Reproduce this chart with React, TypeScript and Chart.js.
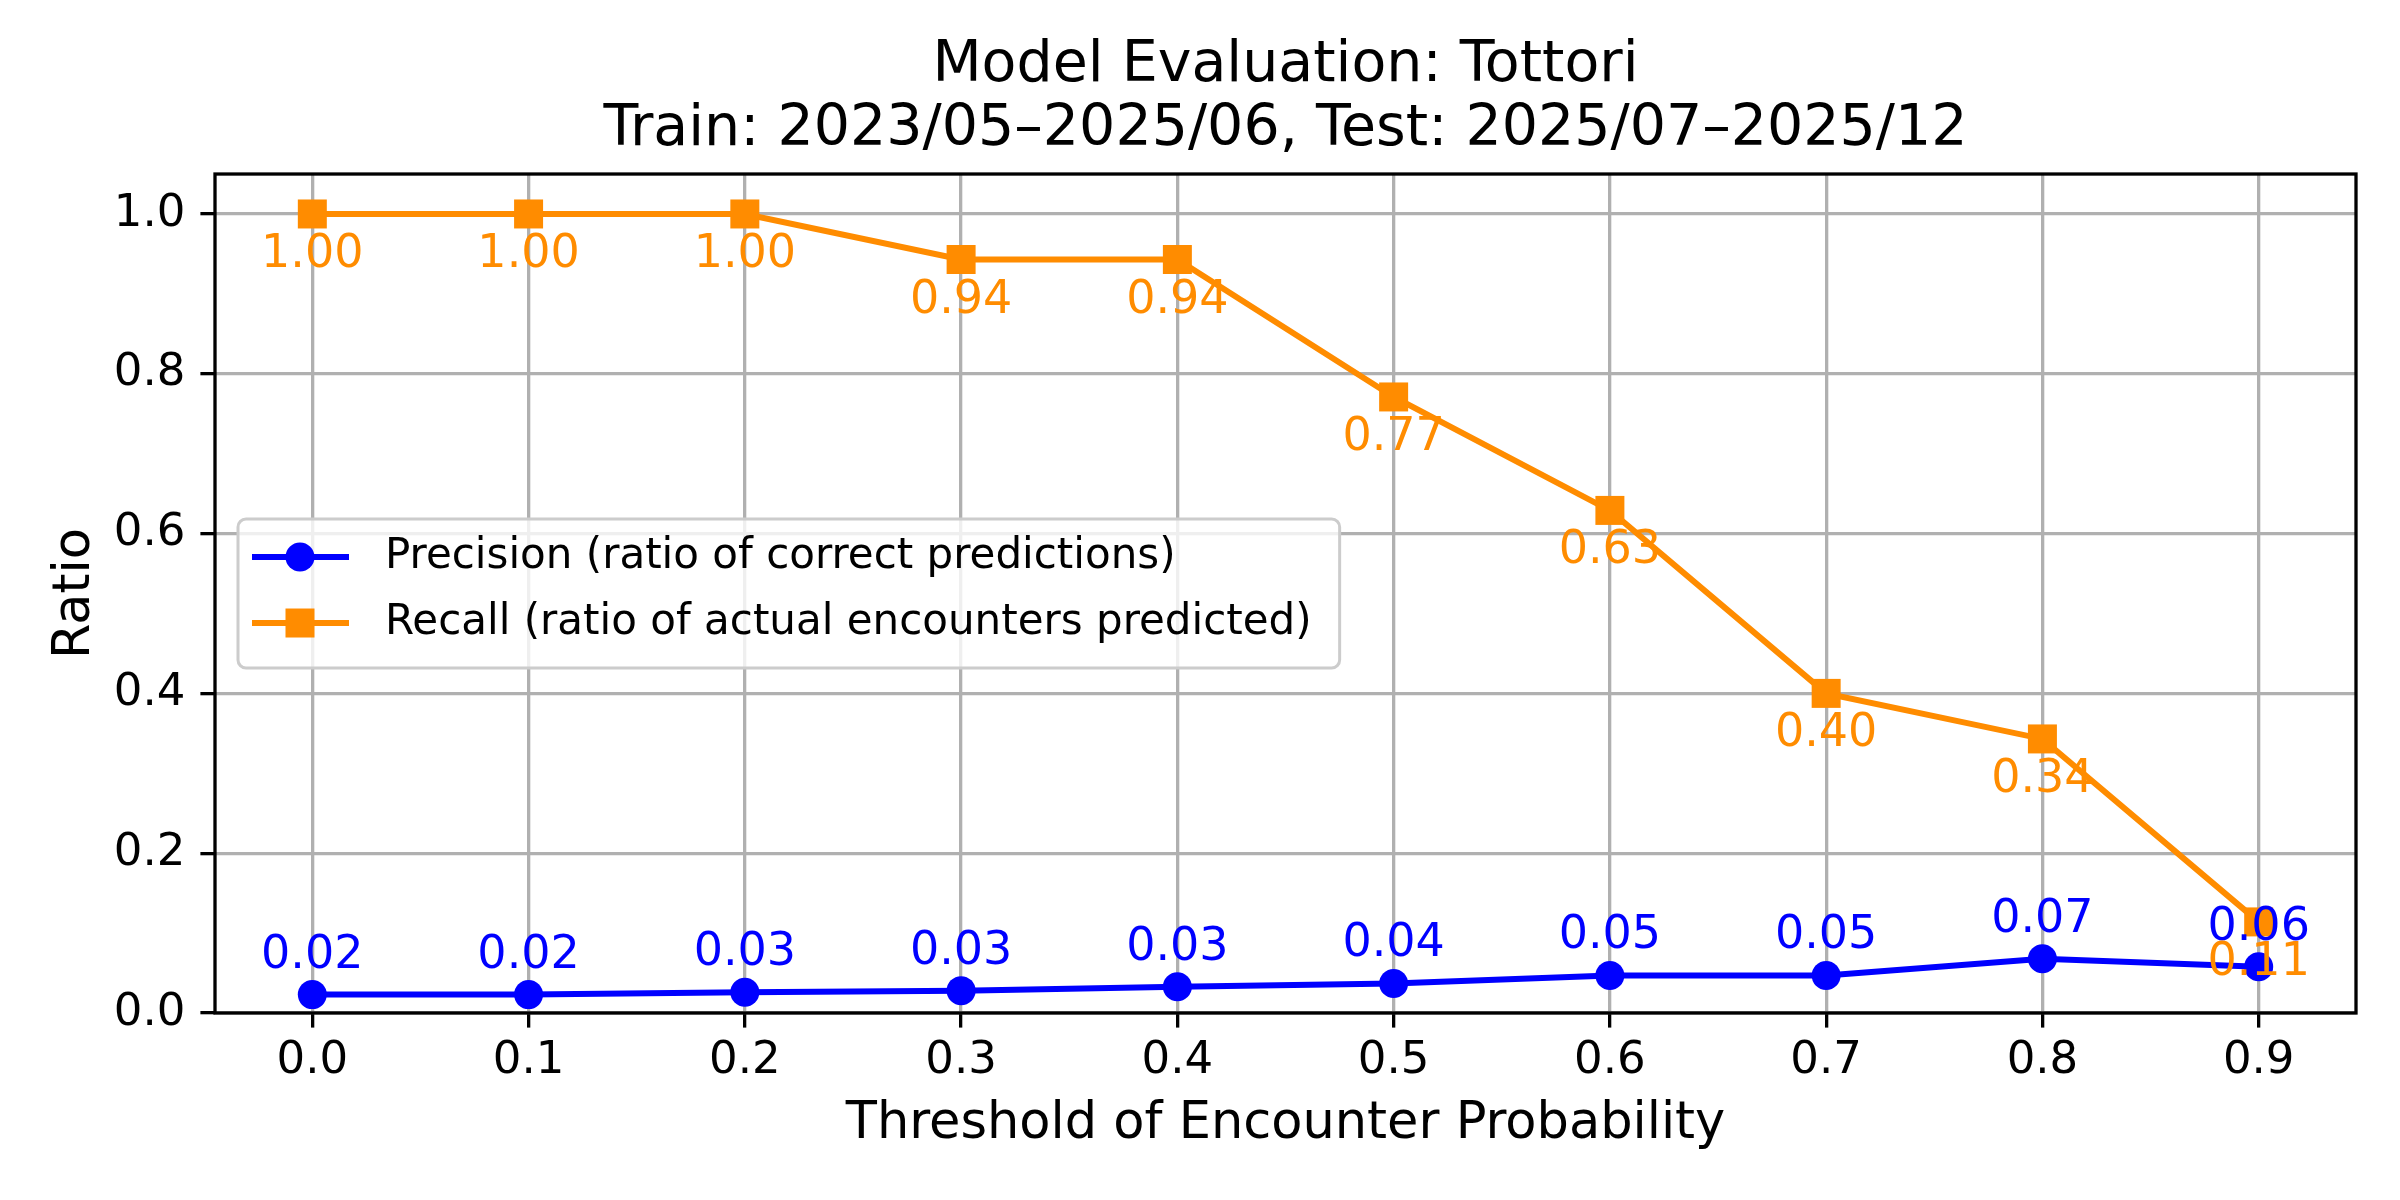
import React, { useEffect, useRef } from "react";
import { Chart, registerables } from "chart.js";

Chart.register(...registerables);

// data
const thresholds = [0.0, 0.1, 0.2, 0.3, 0.4, 0.5, 0.6, 0.7, 0.8, 0.9];
const precision = [0.023, 0.023, 0.026, 0.028, 0.033, 0.037, 0.047, 0.047, 0.068, 0.058];
const recall = [1.0, 1.0, 1.0, 0.943, 0.943, 0.771, 0.629, 0.4, 0.343, 0.114];
const xTicks = [0.0, 0.1, 0.2, 0.3, 0.4, 0.5, 0.6, 0.7, 0.8, 0.9];
const yTicks = [0.0, 0.2, 0.4, 0.6, 0.8, 1.0];
const seriesLabels = [
    "Precision (ratio of correct predictions)",
    "Recall (ratio of actual encounters predicted)",
];
const titleLines = ["Model Evaluation: Tottori", "Train: 2023/05–2025/06, Test: 2025/07–2025/12"];
const xTitle = "Threshold of Encounter Probability";
const yTitle = "Ratio";

const FONT = '"DejaVu Sans", sans-serif';
const BLUE = "#0000ff";
const ORANGE = "#ff8c00";

// spines, value labels and the in-axes legend
const overlayPlugin = {
    id: "overlay",
    afterDatasetsDraw(chart: any) {
        const {ctx, chartArea: a} = chart;
        ctx.save();
        ctx.strokeStyle = "#000";
        ctx.lineWidth = 3.3;
        ctx.strokeRect(a.left, a.top, a.right - a.left, a.bottom - a.top);

        ctx.font = `46px ${FONT}`;
        ctx.textAlign = "center";
        ctx.textBaseline = "alphabetic";
        chart.data.datasets.forEach((ds: any, i: number) => {
            const meta = chart.getDatasetMeta(i);
            ctx.fillStyle = ds.borderColor;
            meta.data.forEach((pt: any, j: number) => {
                const v = ds.data[j].y;
                const dy = i === 0 ? -27 : 53; // precision above, recall below
                ctx.fillText(v.toFixed(2), pt.x, pt.y + dy);
            });
        });
        ctx.restore();
    },
    afterDraw(chart: any) {
        const {ctx, chartArea: a} = chart;
        ctx.save();
        ctx.font = `42px ${FONT}`;
        const maxW = Math.max(...seriesLabels.map(t => ctx.measureText(t).width));
        const boxLeft = a.left + 23;
        const boxW = 149 + maxW + 26;
        const boxH = 149;
        const boxTop = (a.top + a.bottom) / 2 - boxH / 2;

        ctx.beginPath();
        ctx.roundRect(boxLeft, boxTop, boxW, boxH, 8);
        ctx.fillStyle = "rgba(255,255,255,0.8)";
        ctx.fill();
        ctx.strokeStyle = "#cccccc";
        ctx.lineWidth = 3;
        ctx.stroke();

        const colors = [BLUE, ORANGE];
        seriesLabels.forEach((label, i) => {
            const y = boxTop + 38 + i * 66;
            ctx.strokeStyle = colors[i];
            ctx.fillStyle = colors[i];
            ctx.lineWidth = 6;
            ctx.beginPath();
            ctx.moveTo(boxLeft + 14, y);
            ctx.lineTo(boxLeft + 111, y);
            ctx.stroke();
            const mx = boxLeft + 62;
            if (i === 0) {
                ctx.beginPath();
                ctx.arc(mx, y, 14.5, 0, Math.PI * 2);
                ctx.fill();
            } else {
                ctx.fillRect(mx - 14.5, y - 14.5, 29, 29);
            }
            ctx.fillStyle = "#000";
            ctx.textAlign = "left";
            ctx.textBaseline = "middle";
            ctx.fillText(label, boxLeft + 147, y);
        });
        ctx.restore();
    },
};

export default function App() {
    const chartRef = useRef<HTMLCanvasElement>(null);

    useEffect(() => {
        if (!chartRef.current) return;
        const tickFont = {family: FONT, size: 45};
        const gridOpts = {
            color: "#b0b0b0",
            lineWidth: 3.3,
            tickColor: "#000",
            tickWidth: 3.3,
            tickLength: 14.6,
        };

        const chart = new Chart(chartRef.current, {
            type: "line",
            data: {
                datasets: [
                    {
                        label: seriesLabels[0],
                        data: thresholds.map((x, i) => ({x, y: precision[i]})),
                        borderColor: BLUE,
                        backgroundColor: BLUE,
                        borderWidth: 6,
                        pointStyle: "circle",
                        pointRadius: 14.5,
                        pointHoverRadius: 14.5,
                        pointBorderWidth: 0,
                        order: 1,
                    },
                    {
                        label: seriesLabels[1],
                        data: thresholds.map((x, i) => ({x, y: recall[i]})),
                        borderColor: ORANGE,
                        backgroundColor: ORANGE,
                        borderWidth: 6,
                        pointStyle: "rect",
                        pointRadius: 20.5,
                        pointHoverRadius: 20.5,
                        pointBorderWidth: 0,
                        order: 0,
                    },
                ],
            },
            options: {
                animation: false,
                responsive: false,
                events: [],
                layout: {padding: {top: 34, right: 44, bottom: 0, left: 0}},
                plugins: {
                    legend: {display: false},
                    tooltip: {enabled: false},
                    title: {
                        display: true,
                        text: titleLines,
                        fullSize: false,
                        color: "#000",
                        font: {family: FONT, size: 57, weight: "normal", lineHeight: 1.123},
                        padding: {top: 0, bottom: 12},
                    },
                },
                scales: {
                    x: {
                        type: "linear",
                        min: -0.045,
                        max: 0.945,
                        afterBuildTicks: (s: any) => {
                            s.ticks = xTicks.map(v => ({value: v}));
                        },
                        afterFit: (s: any) => {
                            s.height = 187;
                        },
                        ticks: {
                            font: tickFont,
                            color: "#000",
                            padding: 7,
                            autoSkip: false,
                            maxRotation: 0,
                            callback: (v: any) => Number(v).toFixed(1),
                        },
                        grid: gridOpts,
                        border: {display: false},
                        title: {
                            display: true,
                            text: xTitle,
                            color: "#000",
                            font: {family: FONT, size: 51},
                            padding: {top: 0, bottom: 45},
                        },
                    },
                    y: {
                        type: "linear",
                        min: 0,
                        max: 1.05,
                        afterBuildTicks: (s: any) => {
                            s.ticks = yTicks.map(v => ({value: v}));
                        },
                        afterFit: (s: any) => {
                            s.width = 215;
                        },
                        ticks: {
                            font: tickFont,
                            color: "#000",
                            padding: 15,
                            callback: (v: any) => Number(v).toFixed(1),
                        },
                        grid: gridOpts,
                        border: {display: false},
                        title: {
                            display: true,
                            text: yTitle,
                            color: "#000",
                            font: {family: FONT, size: 51},
                            padding: {top: 45, bottom: 0},
                        },
                    },
                },
            },
            plugins: [overlayPlugin],
        } as any);

        return () => chart.destroy();
    }, []);

    return (
        <div style={{position: "absolute", left: 0, top: 0, width: 2400, height: 1200, background: "#fff"}}>
            <canvas ref={chartRef} width={2400} height={1200} style={{display: "block"}} />
        </div>
    );
}
